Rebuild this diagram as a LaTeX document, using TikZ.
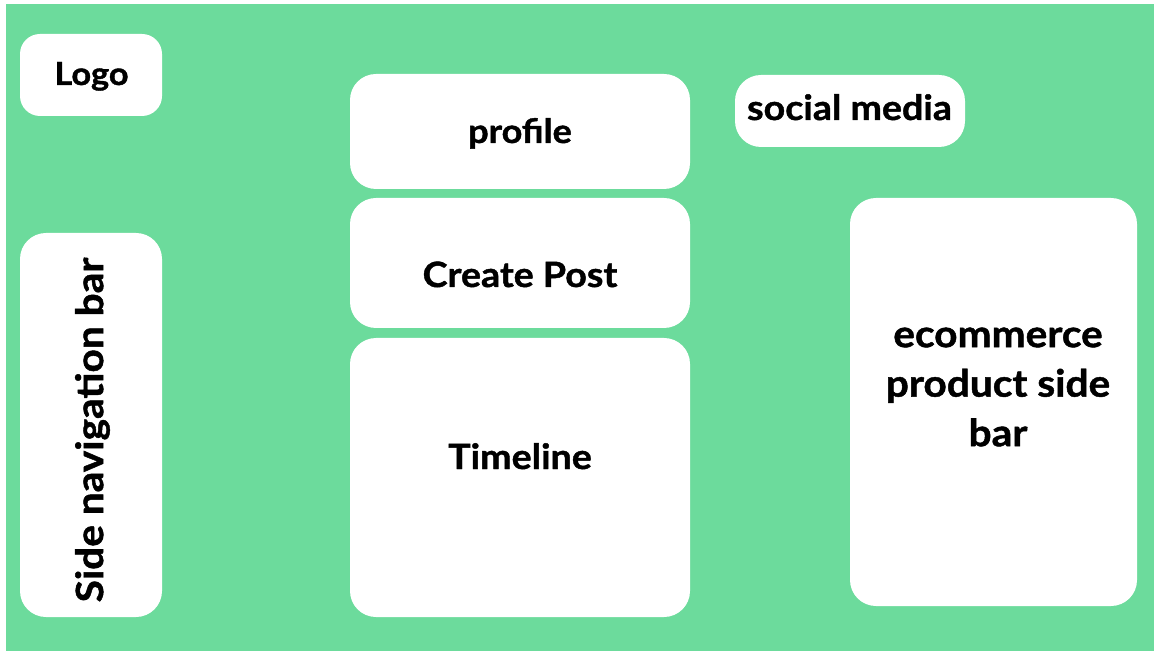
\documentclass[tikz,border=0pt]{standalone}
\usepackage{fontspec}
\setmainfont{Lato}[BoldFeatures={FakeStretch=1.08,FakeBold=1.2}]
\usetikzlibrary{fit}

\definecolor{bggreen}{RGB}{108,219,156}

\tikzset{
  panel/.style={fill=white, rounded corners=13pt, inner sep=0pt},
  lbl/.style={anchor=base, inner sep=0pt, font=\bfseries\fontsize{17.4}{24.75}\selectfont},
}

\begin{document}
\begin{tikzpicture}[x=0.5pt,y=-0.5pt]
        \useasboundingbox (0,0) rectangle (1154,651);
        \fill [bggreen] (6,4) rectangle (1154,651);
        % boxes
        \node [panel, rounded corners=10pt, fit={(20,34) (162,116)}] (logo) {};
        \node [panel, fit={(20,233) (162,617)}] (nav) {};
        \node [panel, fit={(350,74) (690,189)}] (profile) {};
        \node [panel, fit={(350,198) (690,328)}] (post) {};
        \node [panel, fit={(350,338) (690,617)}] (timeline) {};
        \node [panel, fit={(735,75) (965,147)}] (social) {};
        \node [panel, fit={(850,198) (1137,606)}] (shop) {};
        % labels
        \node [lbl, font=\bfseries\fontsize{15.9}{18}\selectfont] (logo-t) at (91.5,85) {Logo};
        \node [lbl, anchor=center, rotate=90, font=\bfseries\fontsize{18.8}{22}\selectfont] (nav-t) at (92.5,430) {Side navigation bar};
        \node [lbl, font=\bfseries\fontsize{16.7}{18}\selectfont] (profile-t) at (520,143) {profile};
        \node [lbl] (post-t) at (520,287) {Create Post};
        \node [lbl] (timeline-t) at (520,469) {Timeline};
        \node [lbl] (social-t) at (849.5,120) {social media};
        \node [lbl, anchor=center, align=center, font=\bfseries\fontsize{18.8}{24.75}\selectfont] (shop-t) at (998,387) {ecommerce\\product side\\bar};
\end{tikzpicture}
\end{document}
